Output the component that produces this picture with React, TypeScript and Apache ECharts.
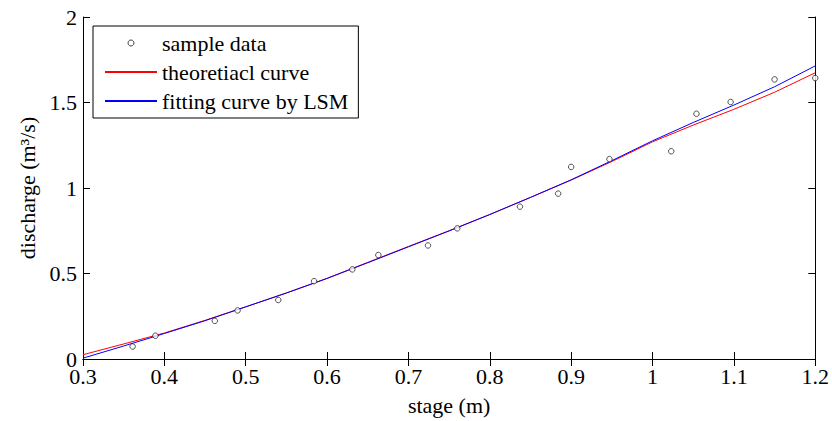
import React, { useEffect, useRef } from "react";
import * as echarts from "echarts";

const sampleStage = [0.361, 0.389, 0.462, 0.49, 0.54, 0.584, 0.631, 0.663, 0.724, 0.76, 0.837, 0.884, 0.9, 0.947, 1.023, 1.054, 1.096, 1.15, 1.2];
const sampleDischarge = [0.073, 0.136, 0.223, 0.284, 0.345, 0.455, 0.524, 0.608, 0.664, 0.764, 0.891, 0.967, 1.123, 1.169, 1.215, 1.434, 1.503, 1.635, 1.643];

const curveStage = [0.3, 0.35, 0.4, 0.45, 0.5, 0.55, 0.6, 0.65, 0.7, 0.75, 0.8, 0.85, 0.9, 0.95, 1.0, 1.05, 1.1, 1.15, 1.2];
const theoretical = [0.025, 0.088, 0.152, 0.226, 0.305, 0.386, 0.472, 0.565, 0.658, 0.75, 0.845, 0.945, 1.046, 1.155, 1.27, 1.368, 1.46, 1.56, 1.674];
const fitted = [0.005, 0.076, 0.149, 0.224, 0.305, 0.386, 0.471, 0.563, 0.656, 0.749, 0.845, 0.945, 1.048, 1.16, 1.276, 1.383, 1.485, 1.592, 1.714];

const xTicks = { min: 0.3, max: 1.2, interval: 0.1 };
const yTicks = { min: 0, max: 2, interval: 0.5 };

const FONT = "Liberation Serif";

export default function App() {
  const ref = useRef<HTMLDivElement>(null);
  useEffect(() => {
    if (!ref.current) return;
    const chart = echarts.init(ref.current, undefined, { renderer: "svg" });
    const zip = (xs: number[], ys: number[]) => xs.map((x, i) => [x, ys[i]]);
    const baseAxisLine = { show: true, lineStyle: { color: "#000", width: 1 } };
    const tick = { show: true, inside: true, length: 7, lineStyle: { color: "#000" } };
    chart.setOption({
      animation: false,
      backgroundColor: "#fff",
      textStyle: { fontFamily: FONT },
      grid: { left: 83, right: 15, top: 17, bottom: 56, containLabel: false },
      xAxis: [
        {
          type: "value",
          min: xTicks.min,
          max: xTicks.max,
          interval: xTicks.interval,
          position: "bottom",
          name: "stage (m)",
          nameLocation: "middle",
          nameGap: 35,
          nameTextStyle: { fontFamily: FONT, fontSize: 22, color: "#000" },
          axisLine: baseAxisLine,
          axisTick: tick,
          axisLabel: { fontFamily: FONT, fontSize: 22, color: "#000", margin: 6 },
          splitLine: { show: false },
        },
        {
          type: "value",
          min: xTicks.min,
          max: xTicks.max,
          interval: xTicks.interval,
          position: "top",
          axisLine: baseAxisLine,
          axisTick: tick,
          axisLabel: { show: false },
          splitLine: { show: false },
        },
      ],
      yAxis: [
        {
          type: "value",
          min: yTicks.min,
          max: yTicks.max,
          interval: yTicks.interval,
          position: "left",
          name: "discharge (m³/s)",
          nameLocation: "middle",
          nameGap: 41,
          nameTextStyle: { fontFamily: FONT, fontSize: 22, color: "#000" },
          axisLine: baseAxisLine,
          axisTick: tick,
          axisLabel: { fontFamily: FONT, fontSize: 22, color: "#000", margin: 6 },
          splitLine: { show: false },
        },
        {
          type: "value",
          min: yTicks.min,
          max: yTicks.max,
          interval: yTicks.interval,
          position: "right",
          axisLine: baseAxisLine,
          axisTick: tick,
          axisLabel: { show: false },
          splitLine: { show: false },
        },
      ],
      legend: {
        orient: "vertical",
        left: 93,
        top: 26,
        padding: [6, 10, 6, 11],
        itemWidth: 52,
        itemHeight: 6,
        itemGap: 7,
        borderColor: "#000",
        borderWidth: 1,
        borderRadius: 0,
        backgroundColor: "#fff",
        textStyle: { fontFamily: FONT, fontSize: 22, color: "#000" },
        data: [
          { name: "sample data", itemStyle: { color: "#fff", borderColor: "#111", borderWidth: 1 } },
          { name: "theoretiacl curve", itemStyle: { opacity: 0 } },
          { name: "fitting curve by LSM", itemStyle: { opacity: 0 } },
        ],
      },
      series: [
        {
          name: "sample data",
          type: "scatter",
          symbol: "circle",
          symbolSize: 5.5,
          itemStyle: { color: "#fff", borderColor: "#111", borderWidth: 0.9 },
          data: zip(sampleStage, sampleDischarge),
          z: 5,
        },
        {
          name: "theoretiacl curve",
          type: "line",
          symbol: "none",
          showSymbol: false,
          lineStyle: { color: "#ff0000", width: 1 },
          itemStyle: { color: "#ff0000" },
          data: zip(curveStage, theoretical),
        },
        {
          name: "fitting curve by LSM",
          type: "line",
          symbol: "none",
          showSymbol: false,
          lineStyle: { color: "#0000ff", width: 1 },
          itemStyle: { color: "#0000ff" },
          data: zip(curveStage, fitted),
        },
      ],
    });
    return () => chart.dispose();
  }, []);
  return (
    <div
      ref={ref}
      style={{ position: "fixed", left: 0, top: 0, width: 832, height: 421, background: "#fff" }}
    />
  );
}
